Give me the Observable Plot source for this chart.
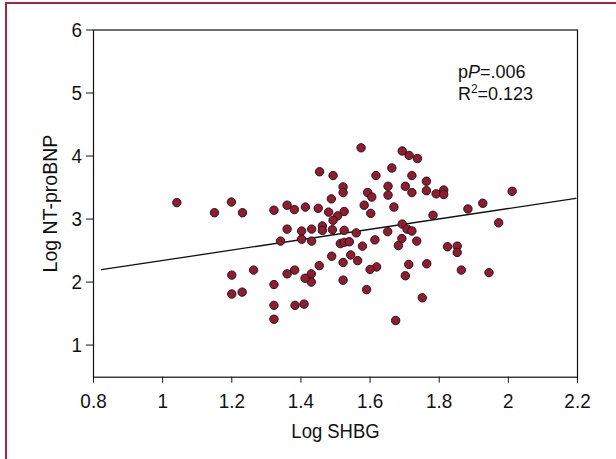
<!DOCTYPE html>
<html><head><meta charset="utf-8">
<script src="https://cdn.jsdelivr.net/npm/d3@7"></script>
<script src="https://cdn.jsdelivr.net/npm/@observablehq/plot@0.6"></script>
<style>
html,body{margin:0;padding:0;background:#fff;}
#chart{position:relative;width:616px;height:459px;overflow:hidden;}
#border{position:absolute;left:5px;top:2px;width:700px;height:600px;border-left:2px solid #a82342;border-top:2px solid #a82342;box-sizing:border-box;pointer-events:none;}
#chart svg{position:absolute;left:0;top:0;}
</style></head><body>
<div id="chart"><div id="border"></div></div>
<script>
// Log SHBG (x) and Log NT-proBNP (y)
const logSHBG = [
  1.041, 1.150, 1.199, 1.231, 1.322, 1.360, 1.381, 1.413, 1.450, 1.454,
  1.493, 1.488, 1.480, 1.506, 1.522, 1.522, 1.525, 1.493, 1.574, 1.583,
  1.593, 1.605, 1.602, 1.617, 1.663, 1.652, 1.652, 1.669, 1.693, 1.713,
  1.737, 1.721, 1.702, 1.721, 1.763, 1.763, 1.791, 1.813, 1.813, 1.782,
  1.883, 1.926, 2.011, 1.972, 1.360, 1.341, 1.402, 1.402, 1.431, 1.431,
  1.462, 1.462, 1.491, 1.525, 1.514, 1.525, 1.540, 1.560, 1.578, 1.614,
  1.651, 1.693, 1.692, 1.707, 1.721, 1.682, 1.735, 1.824, 1.852, 1.852,
  1.864, 1.944, 1.764, 1.712, 1.702, 1.751, 1.674, 1.619, 1.600, 1.590,
  1.564, 1.544, 1.522, 1.522, 1.489, 1.453, 1.430, 1.430, 1.412, 1.382,
  1.360, 1.383, 1.409, 1.322, 1.322, 1.322, 1.263, 1.200, 1.200, 1.230
];
const logNTproBNP = [
  3.26, 3.10, 3.27, 3.10, 3.14, 3.22, 3.15, 3.19, 3.17, 3.75,
  3.69, 3.32, 3.11, 3.05, 3.51, 3.42, 3.12, 2.98, 4.13, 3.22,
  3.42, 3.35, 3.09, 3.69, 3.81, 3.52, 3.38, 3.19, 4.08, 4.01,
  3.96, 3.69, 3.52, 3.42, 3.60, 3.45, 3.40, 3.46, 3.39, 3.06,
  3.16, 3.25, 3.44, 2.94, 2.84, 2.65, 2.81, 2.68, 2.84, 2.65,
  2.89, 2.82, 2.83, 2.82, 2.61, 2.63, 2.64, 2.78, 2.57, 2.67,
  2.80, 2.92, 2.69, 2.84, 2.81, 2.58, 2.65, 2.56, 2.57, 2.47,
  2.19, 2.15, 2.29, 2.28, 2.10, 1.75, 1.39, 2.24, 2.20, 1.88,
  2.34, 2.43, 2.31, 2.03, 2.41, 2.26, 2.13, 2.00, 2.06, 2.19,
  2.13, 1.63, 1.65, 1.96, 1.63, 1.41, 2.19, 2.11, 1.81, 1.84
];
// regression line end points
const fitX = [0.823, 2.195];
const fitY = [2.196, 3.328];
// axis ticks and titles
const xTicks = [0.8, 1, 1.2, 1.4, 1.6, 1.8, 2, 2.2];
const yTicks = [1, 2, 3, 4, 5, 6];
const xTitle = "Log SHBG";
const yTitle = "Log NT-proBNP";
// annotation
const annotX = [1.854, 1.854];
const annotY = [5.33, 4.98];
const annotText = ["pP=.006", "R2=0.123"];

const points = logSHBG.map((x, i) => ({x, y: logNTproBNP[i]}));
const fit = fitX.map((x, i) => ({x, y: fitY[i]}));
const annot = annotText.map((t, i) => ({x: annotX[i], y: annotY[i], t}));

const sans = "'Liberation Sans', Arial, Helvetica, sans-serif";

const svg = Plot.plot({
  width: 616,
  height: 459,
  marginLeft: 93,
  marginTop: 29.5,
  marginRight: 39,
  marginBottom: 82.3,
  style: {fontFamily: sans, fontSize: "21px", color: "#111", background: "transparent"},
  x: {domain: [0.8, 2.2]},
  y: {domain: [0.49, 6]},
  marks: [
    Plot.axisX({ticks: xTicks, tickFormat: d => String(d), tickSize: 6, tickPadding: 10,
      label: xTitle, labelAnchor: "center", labelArrow: "none", labelOffset: 61,
      fontSize: 21}),
    Plot.axisY({ticks: yTicks, tickFormat: d => String(d), tickSize: 7, tickPadding: 4,
      label: yTitle, labelAnchor: "center", labelArrow: "none", labelOffset: 51,
      fontSize: 21}),
    Plot.frame({stroke: "#111", strokeWidth: 1.2}),
    Plot.line(fit, {x: "x", y: "y", stroke: "#111", strokeWidth: 1.3}),
    Plot.dot(points, {x: "x", y: "y", r: 4.2, fill: "#97182f", stroke: "#1a1a1a", strokeWidth: 1}),
    Plot.text(annot, {x: "x", y: "y", text: "t", textAnchor: "start", lineAnchor: "middle",
      fontSize: 18, fontFamily: sans, fill: "#111", className: "annot"})
  ]
});
document.getElementById("chart").appendChild(svg);

// condensed look for the axis texts: horizontal squeeze around each text's centre
d3.select(svg).selectAll("text").each(function() {
  if (this.closest(".annot")) return;
  const s = this.textContent;
  const k = s === yTitle ? 0.93 : s === xTitle ? 0.88 : 0.9;
  const b = this.getBBox();
  const cx = b.x + b.width / 2;
  const t = this.getAttribute("transform") || "";
  this.setAttribute("transform", `${t} translate(${cx},0) scale(${k},1) translate(${-cx},0)`.trim());
});

// italic P and superscript 2 in the annotation
d3.select(svg).selectAll(".annot text").each(function() {
  const el = d3.select(this);
  const s = el.text();
  el.text(null);
  if (s.startsWith("pP")) {
    el.append("tspan").text("p");
    el.append("tspan").attr("font-style", "italic").text("P");
    el.append("tspan").text(s.slice(2));
  } else {
    el.append("tspan").text("R");
    el.append("tspan").attr("font-size", 12).attr("dy", -7).text("2");
    el.append("tspan").attr("dy", 7).text(s.slice(2));
  }
});
</script>
</body></html>
